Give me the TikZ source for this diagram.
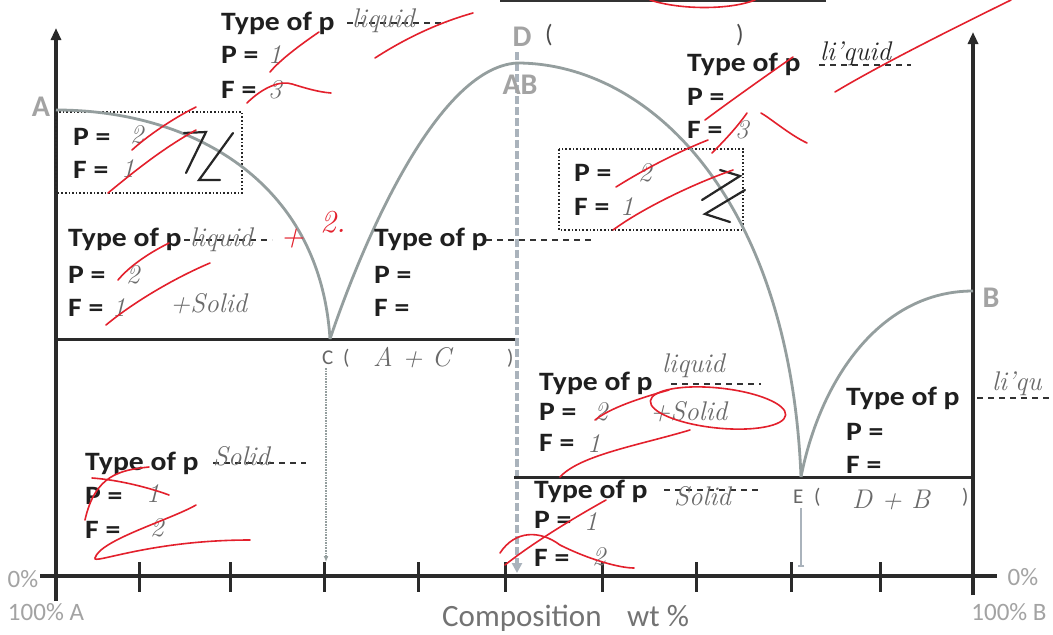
\documentclass[tikz,border=0pt]{standalone}
\usepackage{fontspec}
\usetikzlibrary{arrows.meta}
\newfontfamily\cf[FakeStretch=1.12]{Carlito}
\newfontfamily\cfn{Carlito}
\definecolor{curvegray}{HTML}{949E9E}
\definecolor{dgray}{HTML}{AAB3BC}
\definecolor{lblgray}{HTML}{A3A3A3}
\definecolor{pencil}{HTML}{6A6A6A}
\definecolor{inkred}{HTML}{E3202C}
\definecolor{axisc}{HTML}{2A2A2A}
\tikzset{
  axis/.style={line width=3.6pt, draw=axisc},
  hline/.style={line width=3pt, draw=axisc},
  tickmark/.style={line width=3pt, draw=axisc},
  curve/.style={line width=2.8pt, draw=curvegray},
  txt/.style={font=\cf\bfseries\fontsize{26.5}{30}\selectfont, anchor=base west, inner sep=0pt, text=black!88},
  lbl/.style={font=\cfn\bfseries\fontsize{30}{36}\selectfont, text=lblgray, inner sep=0pt},
  pct/.style={font=\cfn\fontsize{25}{30}\selectfont, text=lblgray, inner sep=0pt},
  paren/.style={font=\cfn\fontsize{25}{30}\selectfont, text=black!70, inner sep=0pt},
  small/.style={font=\cfn\fontsize{21}{25}\selectfont, text=black!60, inner sep=0pt, anchor=base west},
  hand/.style={font=\itshape\fontsize{27}{30}\selectfont, text=pencil, inner sep=0pt, anchor=base west},
  blank/.style={line width=1.6pt, draw=black!80, dash pattern=on 6pt off 5pt},
  dotbox/.style={line width=1.6pt, draw=black!85, dotted},
  redink/.style={line width=1.6pt, draw=inkred, line cap=round},
  blackink/.style={line width=2.2pt, draw=black!85, line cap=round},
}
\begin{document}
\begin{tikzpicture}[x=1pt,y=-1pt]
\useasboundingbox[fill=white] (0,0) rectangle (1053,635);
% top line from previous question
\draw[line width=2pt, draw=black!80] (500,1) -- (826,1);
% key points
\coordinate (pA) at (56,110);
\coordinate (pC) at (330,339);
\coordinate (pD) at (517,63);
\coordinate (pE) at (801,477);
\coordinate (pB) at (973,291);
% dashed line at D
\coordinate (dTop) at (517,52);
\coordinate (dBot) at (517,573);
\draw[line width=4.5pt, draw=dgray, dash pattern=on 8pt off 3pt, -{Triangle[length=10pt,width=10pt]}] (dTop) -- (dBot);
% axes
\coordinate (lBot) at (56,601); \coordinate (lTop) at (56,28);
\coordinate (rBot) at (973,595); \coordinate (rTop) at (973,32);
\coordinate (xL) at (40,576); \coordinate (xR) at (997,576);
\draw[axis,-{Triangle[length=12pt,width=10pt]}] (lBot) -- (lTop);
\draw[axis,-{Triangle[length=12pt,width=10pt]}] (rBot) -- (rTop);
\draw[axis] (xL) -- (xR);
\foreach \tx in {139,230,324,418,505,602,696,791,880}{
  \draw[tickmark] (\tx,562) -- (\tx,592);
}
% horizontal lines
\coordinate (h1R) at (515,339);
\coordinate (h2L) at (514,477);
\draw[hline] (56,339) -- (h1R);
\draw[hline] (h2L) -- (973,477);
% dotted boxes
\draw[dotbox] (56,112) rectangle (242,193);
\draw[dotbox] (559,149) rectangle (743,230);
% curves
\draw[curve] (pA) .. controls (190,110) and (320,180) .. (pC);
\draw[curve] (pC) .. controls (360,250) and (435,68) .. (pD);
\draw[curve] (pD) .. controls (650,63) and (790,200) .. (pE);
\draw[curve] (pE) .. controls (820,380) and (880,291) .. (pB);
% point labels
\node[lbl] (lA) at (41,107) {A};
\node[lbl] (lB) at (991,298) {B};
\node[lbl] (lD) at (522,37) {D};
\node[lbl] (lAB) at (520,85) {AB};
\node[paren] (pD1) at (549,35) {(};
\node[paren] (pD2) at (740,35) {)};
\node[small] (lC) at (322,364) {C};
\node[small] (lC1) at (343,364) {(};
\node[small] (lC2) at (507,364) {)};
\node[small] (lE) at (793,503) {E};
\node[small] (lE1) at (814,503) {(};
\node[small] (lE2) at (962,503) {)};
% connectors below C and E
\coordinate (cBot) at (326,562);
\draw[line width=1.6pt, draw=curvegray, densely dotted, -{Latex[length=6pt,width=5pt]}] (326,368) -- (cBot);
\coordinate (eTop) at (801,508);
\coordinate (eBot) at (801,567);
\draw[line width=2.4pt, draw=dgray, -{Bar[width=6pt]}] (eTop) -- (eBot);
% axis labels
\node[pct] (z1) at (23,579) {0\%};
\node[pct] (h1) at (46,612) {100\% A};
\node[pct] (z2) at (1023,577) {0\%};
\node[pct] (h2) at (1009,612) {100\% B};
\node[font=\cfn\fontsize{31}{36}\selectfont, text=black!55, anchor=base west, inner sep=0pt] (comp) at (442,626) {Composition};
\node[font=\cfn\fontsize{31}{36}\selectfont, text=black!55, anchor=base west, inner sep=0pt] (wt) at (627,626) {wt \%};
% text blocks
\node[txt] (t1) at (221,30) {Type of p};
\node[txt] (p1) at (221,63) {P =};
\node[txt] (f1) at (221,98) {F =};
\node[txt] (p2) at (73,145) {P =};
\node[txt] (f2) at (73,178) {F =};
\node[txt] (t3) at (68,246) {Type of p};
\node[txt] (p3) at (68,283) {P =};
\node[txt] (f3) at (68,316) {F =};
\node[txt] (t4) at (374,246) {Type of p};
\node[txt] (p4) at (374,283) {P =};
\node[txt] (f4) at (374,316) {F =};
\node[txt] (t5) at (687,71) {Type of p};
\node[txt] (p5) at (687,105) {P =};
\node[txt] (f5) at (687,138) {F =};
\node[txt] (p6) at (574,181) {P =};
\node[txt] (f6) at (574,215) {F =};
\node[txt] (t7) at (539,390) {Type of p};
\node[txt] (p7) at (539,420) {P =};
\node[txt] (f7) at (539,451) {F =};
\node[txt] (t8) at (846,405) {Type of p};
\node[txt] (p8) at (846,440) {P =};
\node[txt] (f8) at (846,473) {F =};
\node[txt] (t9) at (534,498) {Type of p};
\node[txt] (p9) at (534,528) {P =};
\node[txt] (f9) at (534,566) {F =};
\node[txt] (t10) at (85,470) {Type of p};
\node[txt] (p10) at (85,504) {P =};
\node[txt] (f10) at (85,538) {F =};
% blanks
\draw[blank] (347,23) -- (446,23);
\draw[blank] (184,240) -- (272,240);
\draw[blank] (486,240) -- (595,240);
\draw[blank] (819,65) -- (911,65);
\draw[blank] (671,384) -- (761,384);
\draw[blank] (977,398) -- (1053,398);
\draw[blank] (664,490) -- (761,490);
\draw[blank] (213,463) -- (306,463);
% pencil answers
\node[hand] (a1) at (352,27) {liquid};
\node[hand] (a2) at (268,63) {1};
\node[hand] (a3) at (268,98) {3};
\node[hand] (a4) at (130,143) {2};
\node[hand] (a5) at (121,177) {1};
\node[hand] (a6) at (190,246) {liquid};
\node[hand] (a7) at (126,283) {2};
\node[hand] (a8) at (112,316) {1};
\node[hand] (a9) at (170,312) {+Solid};
\node[hand, text=black!85] (a10) at (820,60) {li'quid};
\node[hand] (a11) at (735,138) {3};
\node[hand] (a12) at (638,181) {2};
\node[hand] (a13) at (620,215) {1};
\node[hand] (a14) at (662,372) {liquid};
\node[hand] (a15) at (594,420) {2};
\node[hand] (a16) at (650,420) {+Solid};
\node[hand] (a17) at (587,452) {1};
\node[hand] (a18) at (992,390) {li'qu};
\node[hand] (a19) at (674,505) {Solid};
\node[hand] (a20) at (584,530) {1};
\node[hand] (a21) at (592,565) {2};
\node[hand] (a22) at (213,465) {Solid};
\node[hand] (a23) at (146,502) {1};
\node[hand] (a24) at (150,536) {2};
\node[hand] (a25) at (373,366) {A + C};
\node[hand] (a26) at (852,508) {D + B};
% black ink marks in boxes
\draw[blackink] (184,133) -- (206,132) -- (186,173);
\draw[blackink] (233,133) -- (199,180) -- (220,180);
\draw[blackink] (720,170) -- (740,176) -- (702,200);
\draw[blackink] (745,190) -- (705,214) -- (730,222);
% red ink
\node[hand, text=inkred, font=\itshape\fontsize{32}{34}\selectfont] (r1) at (280,246) {+};
\node[hand, text=inkred, font=\itshape\fontsize{32}{34}\selectfont] (r2) at (320,232) {2.};
\draw[redink] (650,0) .. controls (680,10) and (730,10) .. (755,0);
\draw[redink] (319,32) .. controls (300,45) and (280,60) .. (270,72);
\draw[redink] (473,13) .. controls (430,25) and (395,45) .. (375,58);
\draw[redink] (247,103) .. controls (262,88) and (280,80) .. (292,84) .. controls (305,88) and (318,92) .. (331,93);
\draw[redink] (196,107) .. controls (170,120) and (145,138) .. (132,150);
\draw[redink] (196,130) .. controls (160,150) and (130,175) .. (108,193);
\draw[redink] (169,243) .. controls (145,255) and (128,268) .. (118,280);
\draw[redink] (210,263) .. controls (170,280) and (130,305) .. (106,325);
\draw[redink] (1011,0) .. controls (950,30) and (880,65) .. (835,92);
\draw[redink] (793,57) .. controls (760,80) and (725,105) .. (705,120);
\draw[redink] (761,113) .. controls (770,118) and (790,135) .. (807,143);
\draw[redink] (747,113) .. controls (735,130) and (720,145) .. (712,153);
\draw[redink] (708,140) .. controls (670,155) and (635,175) .. (616,187);
\draw[redink] (733,170) .. controls (690,185) and (640,210) .. (613,230);
\draw[redink, rotate around={-6:(718,408)}] (718,408) ellipse [x radius=68pt, y radius=20pt];
\draw[redink] (690,430) .. controls (640,445) and (580,455) .. (560,477);
\draw[redink] (669,390) .. controls (640,398) and (610,408) .. (595,420);
\draw[redink] (606,500) .. controls (570,520) and (530,545) .. (505,565);
\draw[redink] (500,553) .. controls (515,530) and (540,530) .. (560,545) .. controls (590,560) and (620,568) .. (634,568);
\draw[redink] (149,467) .. controls (120,470) and (95,475) .. (85,520);
\draw[redink] (92,478) .. controls (120,480) and (150,488) .. (169,495);
\draw[redink] (196,505) .. controls (170,520) and (100,540) .. (95,558) .. controls (92,565) and (150,540) .. (250,540);
\end{tikzpicture}
\end{document}
